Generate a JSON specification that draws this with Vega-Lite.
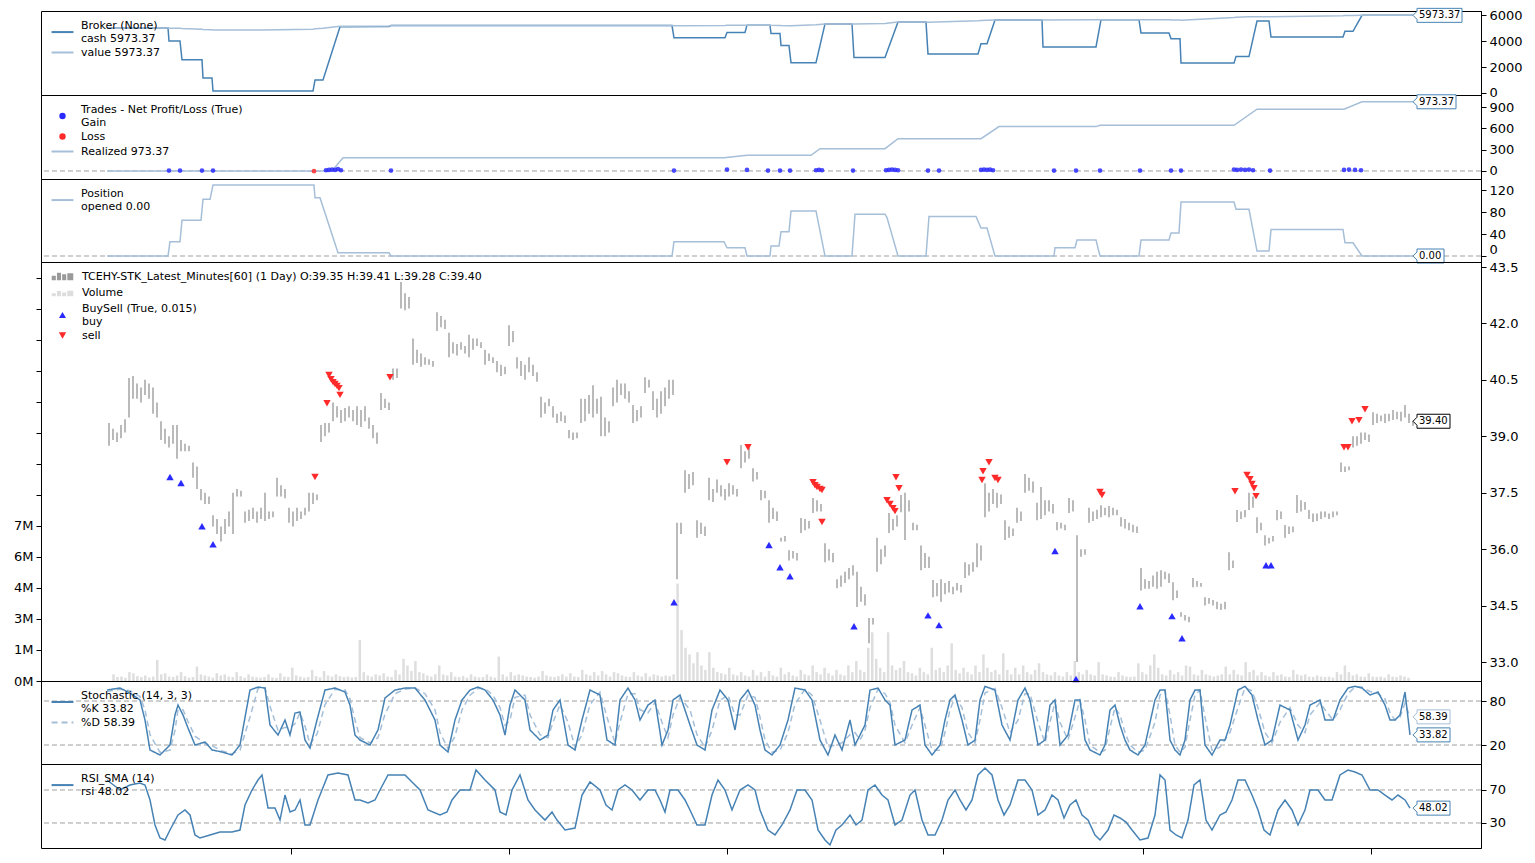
{
"$schema":"https://vega.github.io/schema/vega-lite/v6.json",
"background":"white",
"padding":{"left":13,"top":5,"right":5,"bottom":5},
"bounds":"flush",
"config":{"font":"DejaVu Sans","view":{"stroke":"black","strokeWidth":1},
"axis":{"labelFont":"DejaVu Sans","labelFontSize":13,"labelColor":"black","tickColor":"black","domainColor":"black","tickSize":5,"labelPadding":3,"grid":false},
"legend":{"orient":"top-left","offset":5,"padding":4,"labelFont":"DejaVu Sans","labelFontSize":11,"labelColor":"black","symbolSize":30,"symbolStrokeWidth":2,"symbolOffset":7,"labelOffset":13,"rowPadding":2,"symbolOpacity":1,"labelLimit":1000},
"text":{"font":"DejaVu Sans"}},
"datasets":{
"px":[{"t":17,"l":38.75,"h":39.35,"v":300},{"t":18,"l":38.9,"h":39.2,"v":180},{"t":19,"l":38.85,"h":39.1,"v":200},{"t":20,"l":38.95,"h":39.3,"v":150},{"t":21,"l":39.1,"h":39.45,"v":400},{"t":22,"l":39.5,"h":40.55,"v":350},{"t":23,"l":40.0,"h":40.6,"v":220},{"t":24,"l":40.0,"h":40.4,"v":180},{"t":25,"l":39.9,"h":40.3,"v":250},{"t":26,"l":40.1,"h":40.5,"v":160},{"t":27,"l":40.0,"h":40.4,"v":200},{"t":28,"l":39.6,"h":40.3,"v":950},{"t":29,"l":39.5,"h":39.9,"v":300},{"t":30,"l":38.9,"h":39.4,"v":350},{"t":31,"l":38.8,"h":39.2,"v":200},{"t":32,"l":38.7,"h":39.0,"v":180},{"t":33,"l":38.8,"h":39.3,"v":250},{"t":34,"l":38.4,"h":39.3,"v":400},{"t":35,"l":38.6,"h":38.9,"v":220},{"t":36,"l":38.6,"h":38.8,"v":150},{"t":37,"l":38.6,"h":38.75,"v":180},{"t":38,"l":37.9,"h":38.3,"v":650},{"t":39,"l":37.6,"h":38.2,"v":300},{"t":40,"l":37.3,"h":37.6,"v":250},{"t":41,"l":37.2,"h":37.5,"v":200},{"t":42,"l":37.2,"h":37.4,"v":150},{"t":43,"l":36.6,"h":36.9,"v":350},{"t":44,"l":36.4,"h":36.8,"v":250},{"t":45,"l":36.2,"h":36.6,"v":300},{"t":46,"l":36.4,"h":36.8,"v":200},{"t":47,"l":36.6,"h":37.0,"v":180},{"t":48,"l":36.4,"h":37.5,"v":400},{"t":49,"l":37.4,"h":37.6,"v":220},{"t":50,"l":37.4,"h":37.55,"v":150},{"t":51,"l":36.7,"h":37.0,"v":300},{"t":52,"l":36.75,"h":37.05,"v":200},{"t":53,"l":36.8,"h":37.1,"v":170},{"t":54,"l":36.7,"h":37.0,"v":150},{"t":55,"l":36.8,"h":37.1,"v":180},{"t":56,"l":36.75,"h":37.5,"v":300},{"t":57,"l":36.8,"h":37.0,"v":160},{"t":58,"l":36.85,"h":37.0,"v":140},{"t":59,"l":37.4,"h":37.9,"v":350},{"t":60,"l":37.4,"h":37.7,"v":200},{"t":61,"l":37.35,"h":37.6,"v":180},{"t":62,"l":36.7,"h":37.1,"v":600},{"t":63,"l":36.6,"h":37.0,"v":250},{"t":64,"l":36.75,"h":37.1,"v":200},{"t":65,"l":36.8,"h":37.0,"v":150},{"t":66,"l":36.9,"h":37.1,"v":180},{"t":67,"l":37.0,"h":37.5,"v":500},{"t":68,"l":37.2,"h":37.5,"v":220},{"t":69,"l":37.3,"h":37.45,"v":160},{"t":70,"l":38.85,"h":39.3,"v":450},{"t":71,"l":39.0,"h":39.35,"v":250},{"t":72,"l":39.1,"h":39.35,"v":200},{"t":73,"l":39.4,"h":39.9,"v":300},{"t":74,"l":39.5,"h":39.8,"v":220},{"t":75,"l":39.35,"h":39.7,"v":180},{"t":76,"l":39.4,"h":39.75,"v":200},{"t":77,"l":39.5,"h":39.8,"v":160},{"t":78,"l":39.4,"h":39.7,"v":180},{"t":79,"l":39.3,"h":39.8,"v":1850},{"t":80,"l":39.25,"h":39.7,"v":400},{"t":81,"l":39.4,"h":39.8,"v":250},{"t":82,"l":39.2,"h":39.5,"v":200},{"t":83,"l":38.95,"h":39.3,"v":300},{"t":84,"l":38.8,"h":39.1,"v":250},{"t":85,"l":39.7,"h":40.15,"v":350},{"t":86,"l":39.75,"h":40.0,"v":200},{"t":87,"l":39.7,"h":39.9,"v":180},{"t":88,"l":40.5,"h":40.8,"v":500},{"t":89,"l":40.55,"h":40.8,"v":300},{"t":90,"l":42.4,"h":43.1,"v":1000},{"t":91,"l":42.35,"h":42.8,"v":700},{"t":92,"l":42.4,"h":42.7,"v":450},{"t":93,"l":40.9,"h":41.6,"v":900},{"t":94,"l":40.95,"h":41.3,"v":400},{"t":95,"l":40.85,"h":41.2,"v":350},{"t":96,"l":40.9,"h":41.1,"v":250},{"t":97,"l":40.9,"h":41.05,"v":200},{"t":98,"l":40.85,"h":41.0,"v":300},{"t":99,"l":41.8,"h":42.3,"v":700},{"t":100,"l":41.9,"h":42.2,"v":300},{"t":101,"l":41.85,"h":42.1,"v":250},{"t":102,"l":41.1,"h":41.75,"v":400},{"t":103,"l":41.2,"h":41.5,"v":200},{"t":104,"l":41.15,"h":41.45,"v":180},{"t":105,"l":41.3,"h":41.5,"v":220},{"t":106,"l":41.2,"h":41.4,"v":150},{"t":107,"l":41.1,"h":41.7,"v":300},{"t":108,"l":41.3,"h":41.6,"v":200},{"t":109,"l":41.4,"h":41.6,"v":160},{"t":110,"l":41.35,"h":41.5,"v":180},{"t":111,"l":40.9,"h":41.3,"v":300},{"t":112,"l":41.0,"h":41.2,"v":200},{"t":113,"l":40.95,"h":41.1,"v":150},{"t":114,"l":40.7,"h":41.0,"v":1100},{"t":115,"l":40.6,"h":40.9,"v":300},{"t":116,"l":40.65,"h":40.85,"v":200},{"t":117,"l":41.4,"h":41.95,"v":400},{"t":118,"l":41.5,"h":41.8,"v":250},{"t":119,"l":40.8,"h":41.1,"v":300},{"t":120,"l":40.6,"h":41.0,"v":250},{"t":121,"l":40.5,"h":40.9,"v":200},{"t":122,"l":40.7,"h":41.1,"v":180},{"t":123,"l":40.6,"h":40.9,"v":150},{"t":124,"l":40.45,"h":40.7,"v":200},{"t":125,"l":39.5,"h":40.05,"v":450},{"t":126,"l":39.6,"h":39.9,"v":250},{"t":127,"l":39.8,"h":40.0,"v":200},{"t":128,"l":39.5,"h":39.8,"v":180},{"t":129,"l":39.35,"h":39.6,"v":220},{"t":130,"l":39.4,"h":39.65,"v":300},{"t":131,"l":39.35,"h":39.55,"v":200},{"t":132,"l":38.95,"h":39.17,"v":350},{"t":133,"l":38.9,"h":39.1,"v":200},{"t":134,"l":38.95,"h":39.1,"v":180},{"t":135,"l":39.35,"h":40.0,"v":500},{"t":136,"l":39.4,"h":40.0,"v":300},{"t":137,"l":39.6,"h":40.1,"v":250},{"t":138,"l":39.5,"h":40.36,"v":400},{"t":139,"l":39.6,"h":40.0,"v":250},{"t":140,"l":39.0,"h":40.05,"v":450},{"t":141,"l":39.0,"h":39.5,"v":300},{"t":142,"l":39.1,"h":39.4,"v":200},{"t":143,"l":39.8,"h":40.3,"v":400},{"t":144,"l":39.9,"h":40.5,"v":350},{"t":145,"l":40.1,"h":40.4,"v":250},{"t":146,"l":40.0,"h":40.4,"v":200},{"t":147,"l":39.9,"h":40.2,"v":180},{"t":148,"l":39.35,"h":39.83,"v":400},{"t":149,"l":39.4,"h":39.7,"v":250},{"t":150,"l":39.5,"h":39.8,"v":200},{"t":151,"l":40.15,"h":40.57,"v":350},{"t":152,"l":40.3,"h":40.5,"v":200},{"t":153,"l":39.7,"h":40.2,"v":300},{"t":154,"l":39.5,"h":40.0,"v":250},{"t":155,"l":39.6,"h":40.2,"v":200},{"t":156,"l":39.8,"h":40.3,"v":250},{"t":157,"l":40.0,"h":40.5,"v":220},{"t":158,"l":40.1,"h":40.5,"v":300},{"t":159,"l":35.2,"h":36.7,"v":4400},{"t":160,"l":36.4,"h":36.7,"v":2300},{"t":161,"l":37.5,"h":38.1,"v":1500},{"t":162,"l":37.6,"h":38.0,"v":1200},{"t":163,"l":37.7,"h":38.05,"v":800},{"t":164,"l":36.3,"h":36.77,"v":1300},{"t":165,"l":36.4,"h":36.7,"v":700},{"t":166,"l":36.35,"h":36.6,"v":500},{"t":167,"l":37.3,"h":37.9,"v":1300},{"t":168,"l":37.25,"h":37.6,"v":600},{"t":169,"l":37.5,"h":37.85,"v":400},{"t":170,"l":37.4,"h":37.7,"v":350},{"t":171,"l":37.3,"h":37.6,"v":300},{"t":172,"l":37.4,"h":37.75,"v":600},{"t":173,"l":37.45,"h":37.7,"v":300},{"t":174,"l":37.4,"h":37.6,"v":250},{"t":175,"l":38.15,"h":38.77,"v":400},{"t":176,"l":38.3,"h":38.6,"v":250},{"t":177,"l":38.4,"h":38.7,"v":200},{"t":178,"l":37.8,"h":38.15,"v":500},{"t":179,"l":37.85,"h":38.05,"v":250},{"t":180,"l":37.3,"h":37.57,"v":400},{"t":181,"l":37.35,"h":37.55,"v":200},{"t":182,"l":36.7,"h":37.3,"v":450},{"t":183,"l":36.8,"h":37.1,"v":250},{"t":184,"l":36.75,"h":37.0,"v":200},{"t":185,"l":36.2,"h":36.3,"v":600},{"t":186,"l":36.2,"h":36.35,"v":300},{"t":187,"l":35.7,"h":35.97,"v":400},{"t":188,"l":35.75,"h":35.95,"v":250},{"t":189,"l":35.7,"h":35.9,"v":200},{"t":190,"l":36.43,"h":36.83,"v":500},{"t":191,"l":36.5,"h":36.8,"v":300},{"t":192,"l":36.55,"h":36.75,"v":250},{"t":193,"l":36.96,"h":37.36,"v":700},{"t":194,"l":37.0,"h":37.3,"v":400},{"t":195,"l":37.0,"h":37.2,"v":300},{"t":196,"l":35.65,"h":36.16,"v":600},{"t":197,"l":35.7,"h":36.0,"v":350},{"t":198,"l":35.65,"h":35.9,"v":250},{"t":199,"l":34.96,"h":35.2,"v":500},{"t":200,"l":35.0,"h":35.3,"v":300},{"t":201,"l":35.1,"h":35.4,"v":250},{"t":202,"l":35.2,"h":35.5,"v":700},{"t":203,"l":35.3,"h":35.57,"v":400},{"t":204,"l":34.46,"h":35.4,"v":900},{"t":205,"l":34.6,"h":35.0,"v":500},{"t":206,"l":34.5,"h":34.8,"v":400},{"t":207,"l":33.5,"h":34.17,"v":1500},{"t":208,"l":34.0,"h":34.17,"v":2200},{"t":209,"l":35.4,"h":36.3,"v":1000},{"t":210,"l":35.6,"h":36.0,"v":600},{"t":211,"l":35.8,"h":36.1,"v":400},{"t":212,"l":36.43,"h":36.96,"v":2200},{"t":213,"l":36.5,"h":36.8,"v":700},{"t":214,"l":36.6,"h":36.9,"v":500},{"t":215,"l":36.98,"h":37.44,"v":600},{"t":216,"l":36.24,"h":37.5,"v":900},{"t":217,"l":37.0,"h":37.3,"v":400},{"t":218,"l":36.5,"h":36.7,"v":350},{"t":219,"l":36.5,"h":36.65,"v":250},{"t":220,"l":35.44,"h":36.1,"v":600},{"t":221,"l":35.5,"h":35.9,"v":400},{"t":222,"l":35.5,"h":35.8,"v":300},{"t":223,"l":34.72,"h":35.18,"v":1500},{"t":224,"l":34.75,"h":35.1,"v":500},{"t":225,"l":34.6,"h":35.2,"v":600},{"t":226,"l":34.8,"h":35.1,"v":400},{"t":227,"l":34.85,"h":35.15,"v":700},{"t":228,"l":34.8,"h":35.0,"v":1700},{"t":229,"l":34.9,"h":35.1,"v":500},{"t":230,"l":34.85,"h":35.05,"v":350},{"t":231,"l":35.23,"h":35.65,"v":600},{"t":232,"l":35.3,"h":35.6,"v":400},{"t":233,"l":35.4,"h":35.65,"v":300},{"t":234,"l":35.52,"h":36.16,"v":700},{"t":235,"l":35.7,"h":36.1,"v":400},{"t":236,"l":36.85,"h":37.75,"v":1200},{"t":237,"l":37.0,"h":37.5,"v":600},{"t":238,"l":37.2,"h":37.6,"v":400},{"t":239,"l":37.1,"h":37.5,"v":500},{"t":240,"l":37.2,"h":37.45,"v":300},{"t":241,"l":36.24,"h":36.77,"v":1250},{"t":242,"l":36.3,"h":36.6,"v":500},{"t":243,"l":36.35,"h":36.55,"v":300},{"t":244,"l":36.7,"h":37.1,"v":600},{"t":245,"l":36.75,"h":37.0,"v":300},{"t":246,"l":37.5,"h":38.0,"v":700},{"t":247,"l":37.55,"h":37.9,"v":400},{"t":248,"l":37.5,"h":37.8,"v":300},{"t":249,"l":36.77,"h":37.23,"v":500},{"t":250,"l":36.8,"h":37.65,"v":800},{"t":251,"l":36.9,"h":37.3,"v":400},{"t":252,"l":37.0,"h":37.3,"v":300},{"t":253,"l":36.95,"h":37.2,"v":250},{"t":254,"l":36.5,"h":36.72,"v":400},{"t":255,"l":36.55,"h":36.7,"v":250},{"t":256,"l":36.5,"h":36.65,"v":200},{"t":257,"l":36.96,"h":37.36,"v":400},{"t":258,"l":37.0,"h":37.3,"v":250},{"t":259,"l":33.0,"h":36.37,"v":900},{"t":260,"l":35.8,"h":36.0,"v":400},{"t":261,"l":35.85,"h":36.0,"v":300},{"t":262,"l":36.7,"h":37.1,"v":500},{"t":263,"l":36.75,"h":37.0,"v":300},{"t":264,"l":36.8,"h":37.05,"v":250},{"t":265,"l":36.85,"h":37.17,"v":850},{"t":266,"l":36.9,"h":37.1,"v":300},{"t":267,"l":36.85,"h":37.15,"v":250},{"t":268,"l":36.9,"h":37.1,"v":200},{"t":269,"l":36.9,"h":37.05,"v":180},{"t":270,"l":36.6,"h":36.85,"v":400},{"t":271,"l":36.55,"h":36.8,"v":250},{"t":272,"l":36.5,"h":36.7,"v":200},{"t":273,"l":36.45,"h":36.65,"v":180},{"t":274,"l":36.43,"h":36.6,"v":200},{"t":275,"l":34.9,"h":35.5,"v":800},{"t":276,"l":34.95,"h":35.2,"v":400},{"t":277,"l":34.95,"h":35.15,"v":300},{"t":278,"l":35.0,"h":35.3,"v":700},{"t":279,"l":34.95,"h":35.4,"v":1200},{"t":280,"l":35.0,"h":35.44,"v":600},{"t":281,"l":35.2,"h":35.4,"v":300},{"t":282,"l":35.1,"h":35.35,"v":250},{"t":283,"l":34.64,"h":35.12,"v":500},{"t":284,"l":34.7,"h":34.9,"v":300},{"t":285,"l":34.2,"h":34.32,"v":400},{"t":286,"l":34.1,"h":34.25,"v":250},{"t":287,"l":34.06,"h":34.2,"v":700},{"t":288,"l":34.99,"h":35.23,"v":650},{"t":289,"l":35.0,"h":35.15,"v":300},{"t":290,"l":35.0,"h":35.1,"v":250},{"t":291,"l":34.5,"h":34.72,"v":500},{"t":292,"l":34.55,"h":34.7,"v":300},{"t":293,"l":34.5,"h":34.65,"v":250},{"t":294,"l":34.4,"h":34.6,"v":200},{"t":295,"l":34.38,"h":34.55,"v":250},{"t":296,"l":34.4,"h":34.6,"v":300},{"t":297,"l":35.44,"h":35.92,"v":650},{"t":298,"l":35.5,"h":35.7,"v":300},{"t":299,"l":36.72,"h":37.04,"v":500},{"t":300,"l":36.8,"h":37.0,"v":300},{"t":301,"l":36.85,"h":37.04,"v":250},{"t":302,"l":37.04,"h":37.5,"v":850},{"t":303,"l":37.1,"h":37.4,"v":400},{"t":304,"l":36.43,"h":36.85,"v":500},{"t":305,"l":36.5,"h":36.7,"v":250},{"t":306,"l":36.1,"h":36.37,"v":400},{"t":307,"l":36.15,"h":36.3,"v":250},{"t":308,"l":36.2,"h":36.35,"v":200},{"t":309,"l":36.77,"h":37.04,"v":400},{"t":310,"l":36.8,"h":37.0,"v":250},{"t":311,"l":36.3,"h":36.64,"v":300},{"t":312,"l":36.4,"h":36.6,"v":200},{"t":313,"l":36.45,"h":36.6,"v":180},{"t":314,"l":36.96,"h":37.44,"v":500},{"t":315,"l":37.0,"h":37.3,"v":300},{"t":316,"l":37.05,"h":37.25,"v":250},{"t":317,"l":36.8,"h":37.04,"v":300},{"t":318,"l":36.72,"h":36.95,"v":200},{"t":319,"l":36.75,"h":36.95,"v":180},{"t":320,"l":36.8,"h":37.0,"v":250},{"t":321,"l":36.85,"h":37.0,"v":200},{"t":322,"l":36.8,"h":36.95,"v":180},{"t":323,"l":36.85,"h":37.0,"v":200},{"t":324,"l":36.9,"h":37.0,"v":150},{"t":325,"l":38.05,"h":38.3,"v":400},{"t":326,"l":38.05,"h":38.2,"v":300},{"t":327,"l":38.1,"h":38.2,"v":700},{"t":328,"l":38.7,"h":39.0,"v":400},{"t":329,"l":38.75,"h":39.0,"v":250},{"t":330,"l":38.8,"h":39.1,"v":300},{"t":331,"l":38.9,"h":39.1,"v":200},{"t":332,"l":38.85,"h":39.05,"v":180},{"t":333,"l":39.3,"h":39.64,"v":350},{"t":334,"l":39.35,"h":39.6,"v":200},{"t":335,"l":39.4,"h":39.55,"v":180},{"t":336,"l":39.35,"h":39.6,"v":200},{"t":337,"l":39.4,"h":39.6,"v":150},{"t":338,"l":39.43,"h":39.7,"v":300},{"t":339,"l":39.45,"h":39.65,"v":200},{"t":340,"l":39.4,"h":39.65,"v":180},{"t":341,"l":39.5,"h":39.83,"v":250},{"t":342,"l":39.35,"h":39.6,"v":200},{"t":343,"l":39.28,"h":39.41,"v":150}],
"bs":[{"t":32.25,"v":37.92,"k":"buy"},{"t":35,"v":37.76,"k":"buy"},{"t":40.25,"v":36.61,"k":"buy"},{"t":43,"v":36.13,"k":"buy"},{"t":158.25,"v":34.59,"k":"buy"},{"t":182,"v":36.11,"k":"buy"},{"t":184.75,"v":35.52,"k":"buy"},{"t":187.25,"v":35.28,"k":"buy"},{"t":203.25,"v":33.95,"k":"buy"},{"t":221.75,"v":34.24,"k":"buy"},{"t":224.5,"v":33.98,"k":"buy"},{"t":253.5,"v":35.95,"k":"buy"},{"t":258.75,"v":32.55,"k":"buy"},{"t":274.75,"v":34.48,"k":"buy"},{"t":282.75,"v":34.22,"k":"buy"},{"t":285.25,"v":33.63,"k":"buy"},{"t":306.25,"v":35.57,"k":"buy"},{"t":307.5,"v":35.57,"k":"buy"},
{"t":68.5,"v":37.92,"k":"sell"},{"t":72,"v":40.63,"k":"sell"},{"t":72.5,"v":40.52,"k":"sell"},{"t":73,"v":40.44,"k":"sell"},{"t":73.5,"v":40.39,"k":"sell"},{"t":74,"v":40.34,"k":"sell"},{"t":74.5,"v":40.28,"k":"sell"},{"t":74.75,"v":40.1,"k":"sell"},{"t":71.5,"v":39.88,"k":"sell"},{"t":87.25,"v":40.57,"k":"sell"},{"t":171.5,"v":38.31,"k":"sell"},{"t":176.75,"v":38.71,"k":"sell"},{"t":193,"v":37.78,"k":"sell"},{"t":193.5,"v":37.7,"k":"sell"},{"t":194,"v":37.65,"k":"sell"},{"t":194.75,"v":37.6,"k":"sell"},{"t":195.25,"v":37.57,"k":"sell"},{"t":195.25,"v":36.72,"k":"sell"},{"t":213.75,"v":37.91,"k":"sell"},{"t":214.5,"v":37.62,"k":"sell"},{"t":211.5,"v":37.3,"k":"sell"},{"t":212.25,"v":37.2,"k":"sell"},{"t":213,"v":37.09,"k":"sell"},{"t":213.5,"v":37.01,"k":"sell"},{"t":235.25,"v":37.84,"k":"sell"},{"t":235.5,"v":38.07,"k":"sell"},{"t":237,"v":38.31,"k":"sell"},{"t":238.5,"v":37.89,"k":"sell"},{"t":239.25,"v":37.84,"k":"sell"},{"t":264.75,"v":37.52,"k":"sell"},{"t":265.25,"v":37.44,"k":"sell"},{"t":298.5,"v":37.54,"k":"sell"},{"t":301.5,"v":37.97,"k":"sell"},{"t":302.25,"v":37.86,"k":"sell"},{"t":302.75,"v":37.73,"k":"sell"},{"t":303.25,"v":37.62,"k":"sell"},{"t":303.75,"v":37.41,"k":"sell"},{"t":325.75,"v":38.71,"k":"sell"},{"t":326.75,"v":38.71,"k":"sell"},{"t":327.75,"v":39.4,"k":"sell"},{"t":329.5,"v":39.43,"k":"sell"},{"t":331,"v":39.72,"k":"sell"}],
"broker":[{"t":16.5,"cash":5000,"value":5000},{"t":31.75,"cash":5000,"value":5000},{"t":32,"cash":4000,"value":4990},{"t":34.75,"cash":4000,"value":4980},{"t":35.25,"cash":2550,"value":4960},{"t":40.25,"cash":2550,"value":4900},{"t":40.5,"cash":1150,"value":4880},{"t":42.75,"cash":1150,"value":4860},{"t":43,"cash":150,"value":4840},{"t":55,"cash":150,"value":4850},{"t":68,"cash":150,"value":4900},{"t":68.5,"cash":1000,"value":4950},{"t":70.5,"cash":1000,"value":4980},{"t":74.75,"cash":5100,"value":5130},{"t":87,"cash":5120,"value":5150},{"t":87.5,"cash":5187,"value":5187},{"t":157.75,"cash":5187,"value":5187},{"t":158.25,"cash":4250,"value":5180},{"t":171,"cash":4250,"value":5200},{"t":171.5,"cash":4660,"value":5215},{"t":176,"cash":4660,"value":5220},{"t":176.5,"cash":5221,"value":5221},{"t":182.25,"cash":5221,"value":5221},{"t":182.5,"cash":4570,"value":5215},{"t":184.75,"cash":4570,"value":5200},{"t":185,"cash":3650,"value":5190},{"t":187,"cash":3650,"value":5180},{"t":187.5,"cash":2330,"value":5170},{"t":193.75,"cash":2330,"value":5250},{"t":196,"cash":5314,"value":5314},{"t":202.75,"cash":5314,"value":5314},{"t":203.25,"cash":2730,"value":5300},{"t":211,"cash":2730,"value":5350},{"t":214.25,"cash":5455,"value":5455},{"t":221.25,"cash":5455,"value":5455},{"t":221.75,"cash":3000,"value":5440},{"t":234.25,"cash":3000,"value":5560},{"t":235,"cash":3790,"value":5580},{"t":236.5,"cash":3790,"value":5600},{"t":238.5,"cash":5624,"value":5624},{"t":250.25,"cash":5624,"value":5624},{"t":250.5,"cash":3540,"value":5620},{"t":263.75,"cash":3540,"value":5640},{"t":265,"cash":5643,"value":5643},{"t":274.5,"cash":5643,"value":5643},{"t":275,"cash":4620,"value":5640},{"t":282,"cash":4620,"value":5630},{"t":282.5,"cash":4170,"value":5620},{"t":284.75,"cash":4170,"value":5610},{"t":285,"cash":2300,"value":5600},{"t":298.25,"cash":2300,"value":5800},{"t":298.75,"cash":2800,"value":5830},{"t":302,"cash":2800,"value":5860},{"t":304,"cash":5540,"value":5869},{"t":307,"cash":5540,"value":5869},{"t":307.5,"cash":4300,"value":5860},{"t":325.5,"cash":4300,"value":5950},{"t":326,"cash":4750,"value":5960},{"t":328,"cash":4750,"value":5965},{"t":330.25,"cash":5973.37,"value":5973.37},{"t":343,"cash":5973.37,"value":5973.37}],
"realized":[{"t":16.5,"v":0},{"t":72.75,"v":0},{"t":75.5,"v":187},{"t":170.75,"v":187},{"t":176.5,"v":221},{"t":192.5,"v":221},{"t":194.75,"v":314},{"t":211,"v":314},{"t":214.25,"v":455},{"t":235,"v":455},{"t":239.5,"v":624},{"t":263.75,"v":624},{"t":264.75,"v":643},{"t":298.25,"v":643},{"t":304,"v":869},{"t":325.75,"v":869},{"t":330.25,"v":973.37},{"t":343,"v":973.37}],
"trades":[{"t":32,"v":5,"k":"gain"},{"t":34.75,"v":5,"k":"gain"},{"t":40.25,"v":5,"k":"gain"},{"t":43,"v":5,"k":"gain"},{"t":68.25,"v":-3,"k":"loss"},{"t":71.25,"v":10,"k":"gain"},{"t":72,"v":15,"k":"gain"},{"t":72.75,"v":20,"k":"gain"},{"t":73.5,"v":15,"k":"gain"},{"t":74.25,"v":25,"k":"gain"},{"t":75,"v":10,"k":"gain"},{"t":87.5,"v":5,"k":"gain"},{"t":158.25,"v":5,"k":"gain"},{"t":171.5,"v":20,"k":"gain"},{"t":176.5,"v":15,"k":"gain"},{"t":181.75,"v":5,"k":"gain"},{"t":184.75,"v":5,"k":"gain"},{"t":187.25,"v":5,"k":"gain"},{"t":193.75,"v":10,"k":"gain"},{"t":194.5,"v":15,"k":"gain"},{"t":195.25,"v":10,"k":"gain"},{"t":203,"v":5,"k":"gain"},{"t":211.25,"v":10,"k":"gain"},{"t":212,"v":15,"k":"gain"},{"t":212.75,"v":20,"k":"gain"},{"t":213.5,"v":15,"k":"gain"},{"t":214.25,"v":10,"k":"gain"},{"t":221.75,"v":5,"k":"gain"},{"t":224.5,"v":5,"k":"gain"},{"t":235,"v":15,"k":"gain"},{"t":235.75,"v":20,"k":"gain"},{"t":236.5,"v":15,"k":"gain"},{"t":237.25,"v":20,"k":"gain"},{"t":238,"v":10,"k":"gain"},{"t":253.25,"v":5,"k":"gain"},{"t":258.75,"v":5,"k":"gain"},{"t":264.75,"v":5,"k":"gain"},{"t":274.75,"v":5,"k":"gain"},{"t":282.5,"v":5,"k":"gain"},{"t":285,"v":5,"k":"gain"},{"t":298.25,"v":20,"k":"gain"},{"t":299,"v":15,"k":"gain"},{"t":300,"v":20,"k":"gain"},{"t":301,"v":15,"k":"gain"},{"t":302,"v":20,"k":"gain"},{"t":303,"v":10,"k":"gain"},{"t":307.25,"v":5,"k":"gain"},{"t":325.75,"v":15,"k":"gain"},{"t":327,"v":20,"k":"gain"},{"t":328.5,"v":15,"k":"gain"},{"t":330,"v":10,"k":"gain"}],
"pos":[{"t":16.5,"v":0},{"t":31.75,"v":0},{"t":32.25,"v":26},{"t":34.75,"v":26},{"t":35.25,"v":65},{"t":40,"v":65},{"t":40.5,"v":103},{"t":42.25,"v":103},{"t":43,"v":129},{"t":68.25,"v":129},{"t":68.5,"v":106},{"t":69.75,"v":106},{"t":74.25,"v":6},{"t":87,"v":6},{"t":87.5,"v":0},{"t":157.75,"v":0},{"t":158.25,"v":26},{"t":170.75,"v":26},{"t":171.5,"v":15},{"t":176,"v":15},{"t":176.5,"v":0},{"t":182.25,"v":0},{"t":182.5,"v":18},{"t":184.5,"v":18},{"t":185,"v":44},{"t":187,"v":44},{"t":187.5,"v":82},{"t":193.75,"v":82},{"t":196,"v":0},{"t":202.75,"v":0},{"t":203.5,"v":76},{"t":211,"v":76},{"t":211.5,"v":70},{"t":214.25,"v":0},{"t":221.25,"v":0},{"t":222,"v":72},{"t":233.75,"v":72},{"t":235,"v":51},{"t":236.5,"v":51},{"t":238.5,"v":0},{"t":253.25,"v":0},{"t":253.5,"v":15},{"t":258.5,"v":15},{"t":259,"v":29},{"t":263.75,"v":29},{"t":264.75,"v":0},{"t":274.5,"v":0},{"t":275,"v":29},{"t":282,"v":29},{"t":282.5,"v":42},{"t":284.5,"v":42},{"t":285,"v":98},{"t":298.25,"v":98},{"t":298.75,"v":85},{"t":302,"v":85},{"t":304,"v":9},{"t":307,"v":9},{"t":307.5,"v":48},{"t":325.5,"v":48},{"t":326,"v":24},{"t":328,"v":24},{"t":330.25,"v":0},{"t":343,"v":0}],
"st":[{"t":16.5,"k":95,"d":93},{"t":19.75,"k":97.7,"d":96},{"t":22.25,"k":90.9,"d":94},{"t":24.75,"k":81.4,"d":86},{"t":26,"k":54.1,"d":68},{"t":27.25,"k":13.2,"d":34},{"t":29.75,"k":6.4,"d":10},{"t":32.25,"k":20,"d":13},{"t":33.5,"k":60.9,"d":40},{"t":34.25,"k":74.5,"d":68},{"t":35.5,"k":60.9,"d":68},{"t":36.75,"k":43.2,"d":52},{"t":38.5,"k":20,"d":32},{"t":41,"k":24.1,"d":22},{"t":42.75,"k":13.2,"d":19},{"t":45.25,"k":10.5,"d":12},{"t":47.75,"k":6.4,"d":8},{"t":49.75,"k":20,"d":13},{"t":52.25,"k":95,"d":58},{"t":54.25,"k":99,"d":97},{"t":56,"k":97.7,"d":98},{"t":57.25,"k":47.3,"d":73},{"t":59.25,"k":33.6,"d":40},{"t":61,"k":54.1,"d":44},{"t":62.25,"k":33.6,"d":44},{"t":63.5,"k":63.6,"d":49},{"t":64.75,"k":65,"d":64},{"t":66,"k":26.8,"d":46},{"t":67.25,"k":15.9,"d":21},{"t":69,"k":54.1,"d":35},{"t":71,"k":95,"d":75},{"t":73.5,"k":97.7,"d":96},{"t":76,"k":92.3,"d":95},{"t":77.25,"k":74.5,"d":83},{"t":78.5,"k":33.6,"d":54},{"t":79.75,"k":26.8,"d":30},{"t":82.25,"k":20,"d":23},{"t":84.25,"k":40.5,"d":30},{"t":86,"k":84.1,"d":62},{"t":88.5,"k":95,"d":90},{"t":91,"k":97.7,"d":96},{"t":93.5,"k":97.7,"d":98},{"t":96,"k":81.4,"d":90},{"t":98.5,"k":54.1,"d":68},{"t":99.75,"k":20,"d":37},{"t":101.75,"k":10.5,"d":15},{"t":103.5,"k":54.1,"d":32},{"t":105.25,"k":81.4,"d":68},{"t":107.25,"k":95,"d":88},{"t":109.25,"k":99,"d":97},{"t":111,"k":95,"d":97},{"t":113,"k":81.4,"d":88},{"t":114.75,"k":60.9,"d":71},{"t":116,"k":33.6,"d":47},{"t":117.25,"k":74.5,"d":54},{"t":118.5,"k":95,"d":85},{"t":121,"k":81.4,"d":88},{"t":122.25,"k":40.5,"d":61},{"t":124.75,"k":26.8,"d":34},{"t":126.75,"k":33.6,"d":30},{"t":128,"k":67.7,"d":51},{"t":129.75,"k":81.4,"d":75},{"t":131.75,"k":20,"d":51},{"t":133.5,"k":13.2,"d":17},{"t":135.25,"k":54.1,"d":34},{"t":137.25,"k":95,"d":75},{"t":139.75,"k":88.2,"d":92},{"t":141.5,"k":26.8,"d":58},{"t":143.5,"k":20,"d":23},{"t":144.75,"k":81.4,"d":51},{"t":146.75,"k":97.7,"d":90},{"t":148.5,"k":81.4,"d":90},{"t":149.75,"k":54.1,"d":68},{"t":151.75,"k":74.5,"d":64},{"t":153.5,"k":81.4,"d":78},{"t":155.25,"k":20,"d":51},{"t":156.75,"k":40.5,"d":30},{"t":158,"k":81.4,"d":61},{"t":159.75,"k":88.2,"d":85},{"t":162.25,"k":47.3,"d":68},{"t":164,"k":20,"d":34},{"t":166,"k":13.2,"d":17},{"t":167.75,"k":67.7,"d":40},{"t":169.75,"k":95,"d":81},{"t":171.75,"k":81.4,"d":88},{"t":173.5,"k":40.5,"d":61},{"t":174.75,"k":81.4,"d":61},{"t":176.75,"k":95,"d":88},{"t":178.5,"k":74.5,"d":85},{"t":179.75,"k":40.5,"d":58},{"t":181,"k":13.2,"d":27},{"t":182.75,"k":6.4,"d":10},{"t":184.75,"k":20,"d":13},{"t":186.75,"k":54.1,"d":37},{"t":188.5,"k":97.7,"d":76},{"t":191,"k":95,"d":96},{"t":192.75,"k":81.4,"d":88},{"t":194.75,"k":26.8,"d":54},{"t":196.75,"k":6.4,"d":17},{"t":198.5,"k":33.6,"d":20},{"t":200.25,"k":13.2,"d":23},{"t":202.25,"k":54.1,"d":34},{"t":203.5,"k":20,"d":37},{"t":204.75,"k":33.6,"d":27},{"t":206,"k":47.3,"d":40},{"t":207.25,"k":95,"d":71},{"t":209.25,"k":97.7,"d":96},{"t":211,"k":81.4,"d":90},{"t":212.25,"k":74.5,"d":78},{"t":213.5,"k":20,"d":47},{"t":216,"k":26.8,"d":23},{"t":217.75,"k":67.7,"d":47},{"t":219.75,"k":74.5,"d":71},{"t":221,"k":20,"d":47},{"t":222.75,"k":6.4,"d":13},{"t":224.75,"k":20,"d":13},{"t":226,"k":54.1,"d":37},{"t":227.25,"k":81.4,"d":68},{"t":228.5,"k":88.2,"d":85},{"t":230.25,"k":54.1,"d":71},{"t":231.75,"k":20,"d":37},{"t":233.5,"k":26.8,"d":23},{"t":234.75,"k":81.4,"d":54},{"t":236,"k":100,"d":91},{"t":238.5,"k":95,"d":97},{"t":240.25,"k":47.3,"d":71},{"t":242.25,"k":26.8,"d":37},{"t":244.25,"k":81.4,"d":54},{"t":246,"k":97.7,"d":90},{"t":247.25,"k":81.4,"d":90},{"t":249.25,"k":20,"d":51},{"t":251,"k":26.8,"d":23},{"t":252.25,"k":74.5,"d":51},{"t":253.5,"k":81.4,"d":78},{"t":254.75,"k":20,"d":51},{"t":256.75,"k":33.6,"d":27},{"t":258.5,"k":81.4,"d":58},{"t":259.75,"k":81.4,"d":81},{"t":261,"k":26.8,"d":54},{"t":262.25,"k":13.2,"d":20},{"t":264.75,"k":6.4,"d":10},{"t":266,"k":20,"d":13},{"t":267.25,"k":67.7,"d":44},{"t":268.5,"k":74.5,"d":71},{"t":269.75,"k":47.3,"d":61},{"t":271,"k":26.8,"d":37},{"t":272.25,"k":13.2,"d":20},{"t":274.25,"k":6.4,"d":10},{"t":276,"k":20,"d":13},{"t":278.5,"k":81.4,"d":51},{"t":279.75,"k":95,"d":88},{"t":281,"k":95,"d":95},{"t":282.25,"k":26.8,"d":61},{"t":283.5,"k":13.2,"d":20},{"t":284.75,"k":6.4,"d":10},{"t":286,"k":26.8,"d":17},{"t":287.25,"k":81.4,"d":54},{"t":288.5,"k":95,"d":88},{"t":289.75,"k":95,"d":95},{"t":291,"k":20,"d":58},{"t":292.75,"k":6.4,"d":13},{"t":294.75,"k":26.8,"d":17},{"t":296,"k":26.8,"d":27},{"t":297.25,"k":47.3,"d":37},{"t":299.25,"k":95,"d":71},{"t":301,"k":100,"d":98},{"t":302.75,"k":88.2,"d":94},{"t":304.25,"k":54.1,"d":71},{"t":306,"k":20,"d":37},{"t":307.75,"k":26.8,"d":23},{"t":309.75,"k":74.5,"d":51},{"t":312.25,"k":67.7,"d":71},{"t":314.25,"k":26.8,"d":47},{"t":316,"k":47.3,"d":37},{"t":317.25,"k":74.5,"d":61},{"t":319.75,"k":81.4,"d":78},{"t":321,"k":54.1,"d":68},{"t":323,"k":54.1,"d":54},{"t":324.75,"k":81.4,"d":68},{"t":326.75,"k":97.7,"d":90},{"t":328.5,"k":100,"d":99},{"t":330.25,"k":97.7,"d":99},{"t":332.25,"k":88.2,"d":93},{"t":334.25,"k":92.3,"d":90},{"t":336,"k":74.5,"d":83},{"t":337.25,"k":54.1,"d":64},{"t":338.5,"k":54.1,"d":54},{"t":339.75,"k":60.9,"d":58},{"t":341,"k":92.3,"d":77},{"t":342.25,"k":33.82,"d":58.39}],
"rs":[{"t":16.5,"r":82.1},{"t":19.75,"r":70},{"t":22.25,"r":76.1},{"t":24.75,"r":78.5},{"t":26,"r":76.1},{"t":27.25,"r":57.9},{"t":28.5,"r":27.6},{"t":29.75,"r":11.8},{"t":31,"r":9.4},{"t":32.25,"r":21.5},{"t":34.25,"r":39.7},{"t":36,"r":45.8},{"t":37.25,"r":39.7},{"t":38.5,"r":15.5},{"t":39.75,"r":11.8},{"t":42.25,"r":15.5},{"t":44.75,"r":19.1},{"t":47.75,"r":19.1},{"t":49.75,"r":21.5},{"t":51,"r":51.8},{"t":52.75,"r":70},{"t":54.25,"r":82.1},{"t":55.25,"r":88.2},{"t":56.75,"r":48.2},{"t":58.5,"r":48.2},{"t":59.75,"r":33.6},{"t":61,"r":63.9},{"t":62.25,"r":43.3},{"t":63.5,"r":45.8},{"t":64.75,"r":57.9},{"t":66,"r":27.6},{"t":67.25,"r":27.6},{"t":69.25,"r":57.9},{"t":70.25,"r":70},{"t":71.75,"r":88.2},{"t":74.25,"r":90.6},{"t":76.75,"r":88.2},{"t":78.5,"r":57.9},{"t":79.75,"r":57.9},{"t":81.75,"r":54.2},{"t":83.5,"r":57.9},{"t":84.75,"r":70},{"t":86.75,"r":88.2},{"t":88.5,"r":88.2},{"t":91,"r":88.2},{"t":92.75,"r":79.7},{"t":94.75,"r":70},{"t":96.75,"r":45.8},{"t":99.75,"r":39.7},{"t":101.5,"r":43.3},{"t":102.75,"r":57.9},{"t":104.75,"r":70},{"t":107.25,"r":70},{"t":108.75,"r":94.2},{"t":111,"r":82.1},{"t":113.5,"r":70},{"t":114.75,"r":43.3},{"t":116.25,"r":39.7},{"t":117.75,"r":70},{"t":119.75,"r":88.2},{"t":121.75,"r":57.9},{"t":123.5,"r":45.8},{"t":126,"r":33.6},{"t":127.75,"r":43.3},{"t":129,"r":33.6},{"t":131,"r":21.5},{"t":133.5,"r":23.9},{"t":135.25,"r":63.9},{"t":137.25,"r":79.7},{"t":139.75,"r":70},{"t":141.25,"r":51.8},{"t":142.75,"r":45.8},{"t":144.25,"r":70},{"t":146,"r":76.1},{"t":147.75,"r":70},{"t":149.75,"r":57.9},{"t":151.75,"r":70},{"t":153.5,"r":70},{"t":154.75,"r":57.9},{"t":156,"r":43.3},{"t":157.25,"r":70},{"t":159.25,"r":70},{"t":161,"r":57.9},{"t":162.25,"r":45.8},{"t":164,"r":27.6},{"t":166,"r":27.6},{"t":167.75,"r":63.9},{"t":169.25,"r":82.1},{"t":171,"r":70},{"t":172.75,"r":45.8},{"t":174.75,"r":70},{"t":176.75,"r":76.1},{"t":178.5,"r":70},{"t":179.75,"r":45.8},{"t":181.75,"r":21.5},{"t":183.5,"r":15.5},{"t":185.25,"r":27.6},{"t":187.25,"r":45.8},{"t":189,"r":70},{"t":191,"r":70},{"t":192.75,"r":57.9},{"t":194.25,"r":21.5},{"t":196,"r":9.4},{"t":197.25,"r":3.3},{"t":198.75,"r":21.5},{"t":200.25,"r":27.6},{"t":202.25,"r":39.7},{"t":203.75,"r":27.6},{"t":205.25,"r":33.6},{"t":206.75,"r":70},{"t":208.5,"r":76.1},{"t":210.25,"r":63.9},{"t":211.75,"r":57.9},{"t":213.5,"r":27.6},{"t":215.25,"r":33.6},{"t":217.25,"r":63.9},{"t":218.5,"r":70},{"t":220.25,"r":33.6},{"t":221.75,"r":15.5},{"t":223.5,"r":15.5},{"t":225.25,"r":33.6},{"t":226.75,"r":57.9},{"t":228.5,"r":70},{"t":229.75,"r":57.9},{"t":231.25,"r":45.8},{"t":232.75,"r":57.9},{"t":234.25,"r":88.2},{"t":236,"r":96.7},{"t":237.75,"r":88.2},{"t":239.25,"r":57.9},{"t":240.75,"r":39.7},{"t":242.25,"r":51.8},{"t":244.25,"r":82.1},{"t":246,"r":82.1},{"t":247.75,"r":70},{"t":249.25,"r":39.7},{"t":251,"r":45.8},{"t":252.75,"r":63.9},{"t":254.25,"r":57.9},{"t":255.75,"r":36.1},{"t":257.25,"r":51.8},{"t":258.75,"r":57.9},{"t":260.25,"r":39.7},{"t":261.75,"r":33.6},{"t":263.5,"r":15.5},{"t":264.75,"r":9.4},{"t":266.75,"r":21.5},{"t":268.25,"r":39.7},{"t":269.75,"r":36.1},{"t":271.25,"r":31.2},{"t":272.75,"r":21.5},{"t":274.75,"r":9.4},{"t":276.75,"r":11.8},{"t":278.5,"r":39.7},{"t":279.75,"r":88.2},{"t":281,"r":82.1},{"t":282.25,"r":21.5},{"t":283.75,"r":15.5},{"t":285.25,"r":11.8},{"t":286.75,"r":33.6},{"t":288.25,"r":76.1},{"t":289.75,"r":82.1},{"t":291.25,"r":33.6},{"t":292.75,"r":21.5},{"t":294.75,"r":39.7},{"t":296.25,"r":43.3},{"t":297.75,"r":57.9},{"t":299.25,"r":82.1},{"t":301,"r":82.1},{"t":302.75,"r":63.9},{"t":304.25,"r":45.8},{"t":305.75,"r":21.5},{"t":307.25,"r":15.5},{"t":309.25,"r":45.8},{"t":311,"r":57.9},{"t":312.75,"r":45.8},{"t":314.25,"r":27.6},{"t":316,"r":45.8},{"t":317.25,"r":70},{"t":319.25,"r":70},{"t":321,"r":57.9},{"t":322.75,"r":57.9},{"t":324.75,"r":88.2},{"t":326.75,"r":94.2},{"t":328.5,"r":91.8},{"t":330.25,"r":88.2},{"t":332.25,"r":70},{"t":334.25,"r":70},{"t":336,"r":63.9},{"t":337.75,"r":57.9},{"t":339.25,"r":63.9},{"t":341,"r":57.9},{"t":342.25,"r":48.02}]
},
"spacing":0,
"resolve":{"scale":{"x":"independent","y":"independent","color":"independent","shape":"independent","size":"independent","stroke":"independent","strokeDash":"independent"},"legend":{"color":"independent","shape":"independent","size":"independent","stroke":"independent","strokeDash":"independent"}},
"vconcat":[
{"width":1440,"height":84,"resolve":{"scale":{"x":"independent","y":"independent","color":"independent","stroke":"independent","shape":"independent"},"legend":{"color":"independent","stroke":"independent","shape":"independent"}},"layer":[
 {"data":{"name":"broker"},"transform":[{"fold":["cash","value"],"as":["key","val"]}],"mark":{"type":"line","strokeWidth":1.5},
  "encoding":{"x":{"field":"t","type":"quantitative","scale":{"domain":[0,360]},"axis":null},
  "y":{"field":"val","type":"quantitative","scale":{"domain":[-154,6308]},"axis":{"orient":"right","values":[0,2000,4000,6000],"format":"d","title":null}},
  "color":{"field":"key","type":"nominal","scale":{"domain":["cash","value"],"range":["#4682b4","#a6bfd8"]},"legend":null}}},
 {"data":{"name":"broker"},"transform":[{"filter":"false"}],"mark":{"type":"point","filled":true,"opacity":1,"size":30},
  "encoding":{"x":{"field":"t","type":"quantitative","scale":{"domain":[0,360]},"axis":null},"y":{"field":"cash","type":"quantitative","scale":{"domain":[-154,6308]},"axis":null},
  "color":{"field":"key","type":"nominal","scale":{"domain":["cash","value"],"range":["#4682b4","#a6bfd8"]},"legend":{"title":null,"labelExpr":"datum.label=='cash' ? ['Broker (None)','cash 5973.37'] : 'value 5973.37'"}},
  "stroke":{"field":"key","type":"nominal","scale":{"domain":["cash","value"],"range":["#4682b4","#a6bfd8"]},"legend":{"title":null,"labelExpr":"datum.label=='cash' ? ['Broker (None)','cash 5973.37'] : 'value 5973.37'"}},
  "shape":{"field":"key","type":"nominal","scale":{"domain":["cash","value"],"range":["M-4,2.4H4","M-4,0H4"]},"legend":{"title":null,"labelExpr":"datum.label=='cash' ? ['Broker (None)','cash 5973.37'] : 'value 5973.37'"}}}},
 {"data":{"values":[{"t":343,"v":5973.37,"s":"5973.37"}]},"mark":{"type":"point","shape":"M0,0L4,-4L4,-7L49,-7L49,7L4,7L4,4Z","size":4,"filled":true,"fill":"white","stroke":"#4682b4","strokeWidth":1,"opacity":1},
  "encoding":{"x":{"field":"t","type":"quantitative","scale":{"domain":[0,360]},"axis":null},"y":{"field":"v","type":"quantitative","scale":{"domain":[-154,6308]},"axis":null}}},
 {"data":{"values":[{"t":343,"v":5973.37,"s":"5973.37"}]},"mark":{"type":"text","align":"left","baseline":"middle","dx":6,"fontSize":10,"color":"black"},
  "encoding":{"x":{"field":"t","type":"quantitative","scale":{"domain":[0,360]},"axis":null},"y":{"field":"v","type":"quantitative","scale":{"domain":[-154,6308]},"axis":null},"text":{"field":"s"}}}
]},
{"width":1440,"height":84,"resolve":{"scale":{"x":"independent","y":"independent","color":"independent","stroke":"independent","shape":"independent"},"legend":{"color":"independent","stroke":"independent","shape":"independent"}},"layer":[
 {"data":{"values":[{"lv":0}]},"mark":{"type":"rule","strokeDash":[5,3],"color":"#a0a0a0","strokeWidth":1},
  "encoding":{"y":{"field":"lv","type":"quantitative","scale":{"domain":[-113,1069]},"axis":{"orient":"right","values":[0,300,600,900],"format":"d","title":null}}}},
 {"data":{"name":"realized"},"mark":{"type":"line","color":"#a6bfd8","strokeWidth":1.5},
  "encoding":{"x":{"field":"t","type":"quantitative","scale":{"domain":[0,360]},"axis":null},"y":{"field":"v","type":"quantitative","scale":{"domain":[-113,1069]},"axis":null}}},
 {"data":{"name":"trades"},"mark":{"type":"point","filled":true,"opacity":0.85,"size":22},
  "encoding":{"x":{"field":"t","type":"quantitative","scale":{"domain":[0,360]},"axis":null},"y":{"field":"v","type":"quantitative","scale":{"domain":[-113,1069]},"axis":null},
  "color":{"field":"k","type":"nominal","scale":{"domain":["gain","loss"],"range":["#2a2aff","#ff2a2a"]},"legend":null}}},
 {"data":{"name":"trades"},"transform":[{"filter":"false"}],"mark":{"type":"point","filled":true,"opacity":1,"size":30},
  "encoding":{"x":{"field":"t","type":"quantitative","scale":{"domain":[0,360]},"axis":null},"y":{"field":"v","type":"quantitative","scale":{"domain":[-113,1069]},"axis":null},
  "color":{"field":"k","type":"nominal","scale":{"domain":["gain","loss","real"],"range":["#2a2aff","#ff2a2a","#a6bfd8"]},"legend":{"title":null,"labelExpr":"datum.label=='gain' ? ['Trades - Net Profit/Loss (True)','Gain'] : datum.label=='loss' ? 'Loss' : 'Realized 973.37'"}},
  "stroke":{"field":"k","type":"nominal","scale":{"domain":["gain","loss","real"],"range":["#2a2aff","#ff2a2a","#a6bfd8"]},"legend":{"title":null,"labelExpr":"datum.label=='gain' ? ['Trades - Net Profit/Loss (True)','Gain'] : datum.label=='loss' ? 'Loss' : 'Realized 973.37'"}},
  "shape":{"field":"k","type":"nominal","scale":{"domain":["gain","loss","real"],"range":["M-0.8,2.37a0.8,0.8 0 1,0 1.6,0a0.8,0.8 0 1,0 -1.6,0Z","M-0.8,0a0.8,0.8 0 1,0 1.6,0a0.8,0.8 0 1,0 -1.6,0Z","M-4,0H4"]},"legend":{"title":null,"labelExpr":"datum.label=='gain' ? ['Trades - Net Profit/Loss (True)','Gain'] : datum.label=='loss' ? 'Loss' : 'Realized 973.37'"}}}},
 {"data":{"values":[{"t":343,"v":973.37,"s":"973.37"}]},"mark":{"type":"point","shape":"M0,0L4,-4L4,-7L43,-7L43,7L4,7L4,4Z","size":4,"filled":true,"fill":"white","stroke":"#4682b4","strokeWidth":1,"opacity":1},
  "encoding":{"x":{"field":"t","type":"quantitative","scale":{"domain":[0,360]},"axis":null},"y":{"field":"v","type":"quantitative","scale":{"domain":[-113,1069]},"axis":null}}},
 {"data":{"values":[{"t":343,"v":973.37,"s":"973.37"}]},"mark":{"type":"text","align":"left","baseline":"middle","dx":6,"fontSize":10,"color":"black"},
  "encoding":{"x":{"field":"t","type":"quantitative","scale":{"domain":[0,360]},"axis":null},"y":{"field":"v","type":"quantitative","scale":{"domain":[-113,1069]},"axis":null},"text":{"field":"s"}}}
]},
{"width":1440,"height":83,"resolve":{"scale":{"x":"independent","y":"independent","color":"independent","stroke":"independent","shape":"independent"},"legend":{"color":"independent","stroke":"independent","shape":"independent"}},"layer":[
 {"data":{"values":[{"lv":0}]},"mark":{"type":"rule","strokeDash":[5,3],"color":"#a0a0a0","strokeWidth":1},
  "encoding":{"y":{"field":"lv","type":"quantitative","scale":{"domain":[-10.9,140]},"axis":{"orient":"right","values":[0,40,80,120],"format":"d","labelFlush":8,"title":null}}}},
 {"data":{"name":"pos"},"mark":{"type":"line","strokeWidth":1.5,"color":"#a6bfd8"},
  "encoding":{"x":{"field":"t","type":"quantitative","scale":{"domain":[0,360]},"axis":null},"y":{"field":"v","type":"quantitative","scale":{"domain":[-10.9,140]},"axis":null}}},
 {"data":{"name":"pos"},"transform":[{"filter":"false"}],"mark":{"type":"point","filled":true,"opacity":1,"size":30},
  "encoding":{"x":{"field":"t","type":"quantitative","scale":{"domain":[0,360]},"axis":null},"y":{"field":"v","type":"quantitative","scale":{"domain":[-10.9,140]},"axis":null},
  "color":{"datum":"pos","type":"nominal","scale":{"domain":["pos"],"range":["#a6bfd8"]},"legend":{"title":null,"labelExpr":"['Position','opened 0.00']"}},
  "stroke":{"datum":"pos","type":"nominal","scale":{"domain":["pos"],"range":["#a6bfd8"]},"legend":{"title":null,"labelExpr":"['Position','opened 0.00']"}},
  "shape":{"datum":"pos","type":"nominal","scale":{"domain":["pos"],"range":["M-4,2.4H4"]},"legend":{"title":null,"labelExpr":"['Position','opened 0.00']"}}}},
 {"data":{"values":[{"t":343,"v":0,"s":"0.00"}]},"mark":{"type":"point","shape":"M0,0L4,-4L4,-7L31,-7L31,7L4,7L4,4Z","size":4,"filled":true,"fill":"white","stroke":"#4682b4","strokeWidth":1,"opacity":1},
  "encoding":{"x":{"field":"t","type":"quantitative","scale":{"domain":[0,360]},"axis":null},"y":{"field":"v","type":"quantitative","scale":{"domain":[-10.9,140]},"axis":null}}},
 {"data":{"values":[{"t":343,"v":0,"s":"0.00"}]},"mark":{"type":"text","align":"left","baseline":"middle","dx":6,"fontSize":10,"color":"black"},
  "encoding":{"x":{"field":"t","type":"quantitative","scale":{"domain":[0,360]},"axis":null},"y":{"field":"v","type":"quantitative","scale":{"domain":[-10.9,140]},"axis":null},"text":{"field":"s"}}}
]},
{"width":1440,"height":419,"resolve":{"scale":{"x":"independent","y":"independent","color":"independent","shape":"independent"},"legend":{"color":"independent","shape":"independent"}},"layer":[
 {"data":{"name":"px"},"mark":{"type":"bar","size":2.5,"color":"#dedede"},
  "encoding":{"x":{"field":"t","type":"quantitative","scale":{"domain":[0,360]},"axis":null},
  "y":{"field":"v","type":"quantitative","scale":{"domain":[0,18920]},"axis":{"orient":"left","values":[0,1400,2800,4200,5600,7000,8400,9800,11200,12600,14000,15400,16800,18200],"labelExpr":"datum.value <= 7000 ? format(datum.value/1000,'.0f') + 'M' : ''","title":null}}}},
 {"data":{"name":"px"},"mark":{"type":"rule","color":"#a3a3a3","strokeWidth":1.5},
  "encoding":{"x":{"field":"t","type":"quantitative","scale":{"domain":[0,360]},"axis":null},
  "y":{"field":"l","type":"quantitative","scale":{"domain":[32.495,43.633]},"axis":{"orient":"right","values":[33,34.5,36,37.5,39,40.5,42,43.5],"format":".1f","title":null}},"y2":{"field":"h"}}},
 {"data":{"name":"bs"},"mark":{"type":"point","filled":true,"opacity":1,"size":55},
  "encoding":{"x":{"field":"t","type":"quantitative","scale":{"domain":[0,360]},"axis":null},"y":{"field":"v","type":"quantitative","scale":{"domain":[32.495,43.633]},"axis":null},
  "color":{"field":"k","type":"nominal","scale":{"domain":["buy","sell"],"range":["#2a2aff","#ff2a2a"]},"legend":null},
  "shape":{"field":"k","type":"nominal","scale":{"domain":["buy","sell"],"range":["triangle-up","triangle-down"]},"legend":null}}},
 {"data":{"name":"bs"},"transform":[{"filter":"false"}],"mark":{"type":"point","filled":true,"opacity":1,"size":55},
  "encoding":{"x":{"field":"t","type":"quantitative","scale":{"domain":[0,360]},"axis":null},"y":{"field":"v","type":"quantitative","scale":{"domain":[32.495,43.633]},"axis":null},
  "color":{"field":"k","type":"nominal","scale":{"domain":["ohlc","vol","buy","sell"],"range":["#9a9a9a","#dddddd","#2a2aff","#ff2a2a"]},"legend":{"title":null,"symbolSize":55,"symbolOffset":7,"labelOffset":14,"rowPadding":1,"labelExpr":"datum.label=='ohlc' ? 'TCEHY-STK_Latest_Minutes[60] (1 Day) O:39.35 H:39.41 L:39.28 C:39.40' : datum.label=='vol' ? 'Volume' : datum.label=='buy' ? ['BuySell (True, 0.015)','buy'] : 'sell'"}},
  "shape":{"field":"k","type":"nominal","scale":{"domain":["ohlc","vol","buy","sell"],"range":["M-2.9,-0.2h1.1v1.2h-1.1zM-1.5,-1h1.1v2h-1.1zM-0.1,-0.6h1.1v1.6h-1.1zM1.3,-0.9h1.6v1.9h-1.6z","M-2.9,0.2h1.1v0.8h-1.1zM-1.5,-0.4h1.1v1.4h-1.1zM-0.1,0h1.1v1h-1.1zM1.3,-0.5h1.6v1.5h-1.6z","M0,0.95L0.95,2.55L-0.95,2.55Z","triangle-down"]},"legend":{"title":null,"symbolSize":55,"symbolOffset":7,"labelOffset":14,"rowPadding":1,"labelExpr":"datum.label=='ohlc' ? 'TCEHY-STK_Latest_Minutes[60] (1 Day) O:39.35 H:39.41 L:39.28 C:39.40' : datum.label=='vol' ? 'Volume' : datum.label=='buy' ? ['BuySell (True, 0.015)','buy'] : 'sell'"}}}},
 {"data":{"values":[{"t":343,"v":39.4,"s":"39.40"}]},"mark":{"type":"point","shape":"M0,0L4,-4L4,-7L37,-7L37,7L4,7L4,4Z","size":4,"filled":true,"fill":"white","stroke":"black","strokeWidth":1,"opacity":1},
  "encoding":{"x":{"field":"t","type":"quantitative","scale":{"domain":[0,360]},"axis":null},"y":{"field":"v","type":"quantitative","scale":{"domain":[32.495,43.633]},"axis":null}}},
 {"data":{"values":[{"t":343,"v":39.4,"s":"39.40"}]},"mark":{"type":"text","align":"left","baseline":"middle","dx":6,"fontSize":10,"color":"black"},
  "encoding":{"x":{"field":"t","type":"quantitative","scale":{"domain":[0,360]},"axis":null},"y":{"field":"v","type":"quantitative","scale":{"domain":[32.495,43.633]},"axis":null},"text":{"field":"s"}}}
]},
{"width":1440,"height":83,"resolve":{"scale":{"x":"independent","y":"independent","color":"independent","stroke":"independent","shape":"independent","strokeDash":"independent"},"legend":{"color":"independent","stroke":"independent","shape":"independent","strokeDash":"independent"}},"layer":[
 {"data":{"values":[{"lv":20},{"lv":80}]},"mark":{"type":"rule","strokeDash":[5,3],"color":"#a0a0a0","strokeWidth":1},
  "encoding":{"y":{"field":"lv","type":"quantitative","scale":{"domain":[-5.9,107.3]},"axis":{"orient":"right","values":[20,80],"format":"d","title":null}}}},
 {"data":{"name":"st"},"transform":[{"fold":["d","k"],"as":["key","val"]}],"mark":{"type":"line","strokeWidth":1.5},
  "encoding":{"x":{"field":"t","type":"quantitative","scale":{"domain":[0,360]},"axis":null},"y":{"field":"val","type":"quantitative","scale":{"domain":[-5.9,107.3]},"axis":null},
  "color":{"field":"key","type":"nominal","scale":{"domain":["k","d"],"range":["#4682b4","#a6bfd8"]},"legend":null},
  "strokeDash":{"field":"key","type":"nominal","scale":{"domain":["k","d"],"range":[[1,0],[6,4]]},"legend":null}}},
 {"data":{"name":"st"},"transform":[{"filter":"false"}],"mark":{"type":"point","filled":true,"opacity":1,"size":30},
  "encoding":{"x":{"field":"t","type":"quantitative","scale":{"domain":[0,360]},"axis":null},"y":{"field":"k","type":"quantitative","scale":{"domain":[-5.9,107.3]},"axis":null},
  "color":{"field":"key","type":"nominal","scale":{"domain":["k","d"],"range":["#4682b4","#a6bfd8"]},"legend":{"title":null,"labelExpr":"datum.label=='k' ? ['Stochastic (14, 3, 3)','%K 33.82'] : '%D 58.39'"}},
  "stroke":{"field":"key","type":"nominal","scale":{"domain":["k","d"],"range":["#4682b4","#a6bfd8"]},"legend":{"title":null,"labelExpr":"datum.label=='k' ? ['Stochastic (14, 3, 3)','%K 33.82'] : '%D 58.39'"}},
  "shape":{"field":"key","type":"nominal","scale":{"domain":["k","d"],"range":["M-4,2.4H4","M-4,0H4"]},"legend":{"title":null,"labelExpr":"datum.label=='k' ? ['Stochastic (14, 3, 3)','%K 33.82'] : '%D 58.39'"}},
  "strokeDash":{"field":"key","type":"nominal","scale":{"domain":["k","d"],"range":[[1,0],[6,4]]},"legend":{"title":null,"labelExpr":"datum.label=='k' ? ['Stochastic (14, 3, 3)','%K 33.82'] : '%D 58.39'"}}}},
 {"data":{"values":[{"t":343,"v":58.39,"s":"58.39","c":"d"},{"t":343,"v":33.82,"s":"33.82","c":"k"}]},"mark":{"type":"point","shape":"M0,0L4,-4L4,-7L37,-7L37,7L4,7L4,4Z","size":4,"filled":true,"fill":"white","strokeWidth":1,"opacity":1},
  "encoding":{"x":{"field":"t","type":"quantitative","scale":{"domain":[0,360]},"axis":null},"y":{"field":"v","type":"quantitative","scale":{"domain":[-5.9,107.3]},"axis":null},
  "stroke":{"field":"c","type":"nominal","scale":{"domain":["k","d"],"range":["#4682b4","#a6bfd8"]},"legend":null}}},
 {"data":{"values":[{"t":343,"v":58.39,"s":"58.39"},{"t":343,"v":33.82,"s":"33.82"}]},"mark":{"type":"text","align":"left","baseline":"middle","dx":6,"fontSize":10,"color":"black"},
  "encoding":{"x":{"field":"t","type":"quantitative","scale":{"domain":[0,360]},"axis":null},"y":{"field":"v","type":"quantitative","scale":{"domain":[-5.9,107.3]},"axis":null},"text":{"field":"s"}}}
]},
{"width":1440,"height":84,"resolve":{"scale":{"x":"independent","y":"independent","color":"independent","stroke":"independent","shape":"independent"},"legend":{"color":"independent","stroke":"independent","shape":"independent"}},"layer":[
 {"data":{"values":[{"lv":30},{"lv":70}]},"mark":{"type":"rule","strokeDash":[5,3],"color":"#a0a0a0","strokeWidth":1},
  "encoding":{"y":{"field":"lv","type":"quantitative","scale":{"domain":[-0.3,101.5]},"axis":{"orient":"right","values":[30,70],"format":"d","title":null}}}},
 {"data":{"name":"rs"},"mark":{"type":"line","strokeWidth":1.5,"color":"#4682b4"},
  "encoding":{"x":{"field":"t","type":"quantitative","scale":{"domain":[0,360]},"axis":{"orient":"bottom","values":[62.5,117,171.5,225.5,275.5,332.5],"labels":false,"tickSize":6,"domain":false,"title":null}},
  "y":{"field":"r","type":"quantitative","scale":{"domain":[-0.3,101.5]},"axis":null}}},
 {"data":{"name":"rs"},"transform":[{"filter":"false"}],"mark":{"type":"point","filled":true,"opacity":1,"size":30},
  "encoding":{"x":{"field":"t","type":"quantitative","scale":{"domain":[0,360]},"axis":null},"y":{"field":"r","type":"quantitative","scale":{"domain":[-0.3,101.5]},"axis":null},
  "color":{"datum":"rsi","type":"nominal","scale":{"domain":["rsi"],"range":["#4682b4"]},"legend":{"title":null,"labelExpr":"['RSI_SMA (14)','rsi 48.02']"}},
  "stroke":{"datum":"rsi","type":"nominal","scale":{"domain":["rsi"],"range":["#4682b4"]},"legend":{"title":null,"labelExpr":"['RSI_SMA (14)','rsi 48.02']"}},
  "shape":{"datum":"rsi","type":"nominal","scale":{"domain":["rsi"],"range":["M-4,2.4H4"]},"legend":{"title":null,"labelExpr":"['RSI_SMA (14)','rsi 48.02']"}}}},
 {"data":{"values":[{"t":343,"v":48.02,"s":"48.02"}]},"mark":{"type":"point","shape":"M0,0L4,-4L4,-7L37,-7L37,7L4,7L4,4Z","size":4,"filled":true,"fill":"white","stroke":"#4682b4","strokeWidth":1,"opacity":1},
  "encoding":{"x":{"field":"t","type":"quantitative","scale":{"domain":[0,360]},"axis":null},"y":{"field":"v","type":"quantitative","scale":{"domain":[-0.3,101.5]},"axis":null}}},
 {"data":{"values":[{"t":343,"v":48.02,"s":"48.02"}]},"mark":{"type":"text","align":"left","baseline":"middle","dx":6,"fontSize":10,"color":"black"},
  "encoding":{"x":{"field":"t","type":"quantitative","scale":{"domain":[0,360]},"axis":null},"y":{"field":"v","type":"quantitative","scale":{"domain":[-0.3,101.5]},"axis":null},"text":{"field":"s"}}}
]}
]
}
